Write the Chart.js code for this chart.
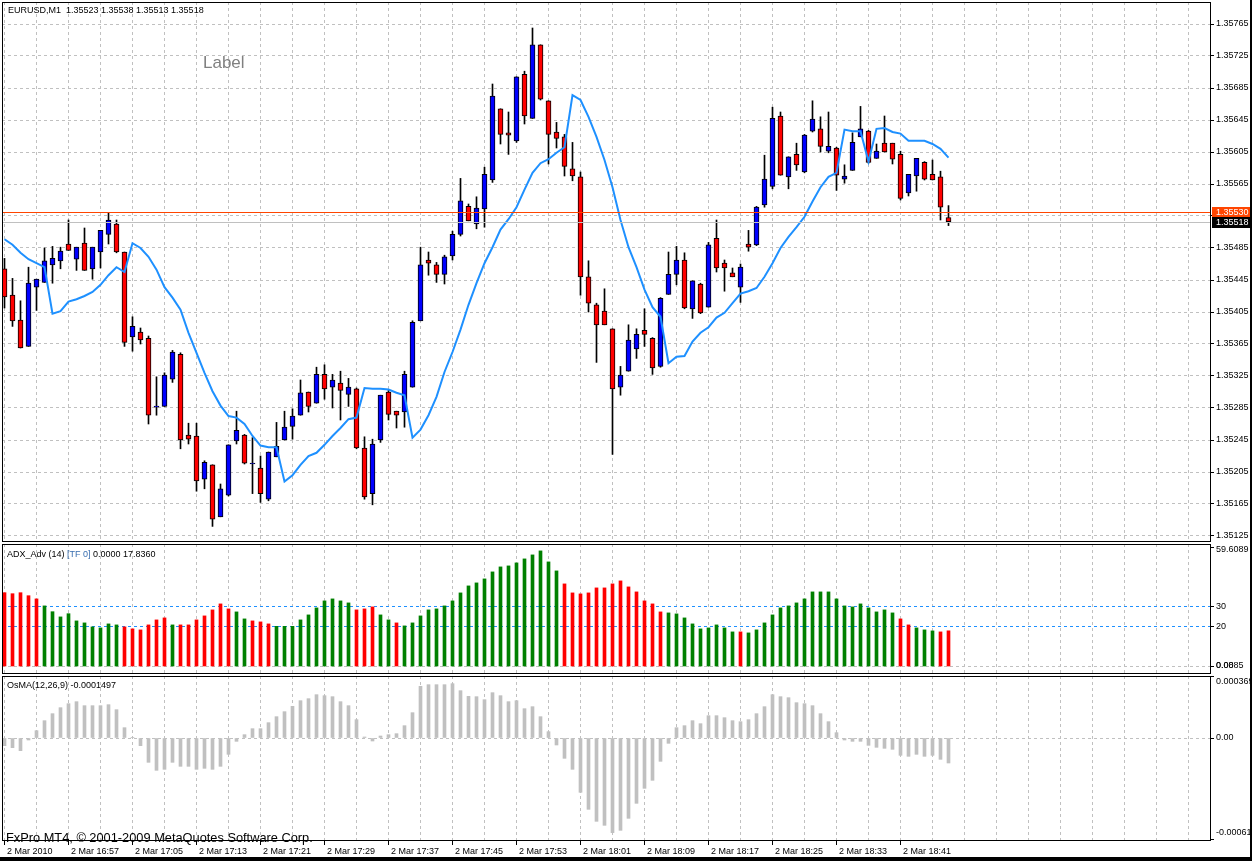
<!DOCTYPE html>
<html>
<head>
<meta charset="utf-8">
<script src="https://cdn.jsdelivr.net/npm/chart.js@4.4.1/dist/chart.umd.min.js"></script>
<style>
    html, body { margin: 0; padding: 0; background: #fff; }
    #wrap { position: relative; width: 1252px; height: 861px; overflow: hidden; background: #fff; }
    canvas { position: absolute; left: 0; }
    .edge { position: absolute; background: #000; }
</style>
</head>
<body>
<div id="wrap">
    <canvas id="priceChart" width="1252" height="543" style="top:0px"></canvas>
    <canvas id="adxChart" width="1252" height="136" style="top:540px"></canvas>
    <canvas id="osmaChart" width="1252" height="189" style="top:672px"></canvas>
    <div class="edge" style="left:1250px;top:0;width:2px;height:861px"></div>
    <div class="edge" style="left:0;top:857px;width:1252px;height:4px"></div>
</div>
<script>
// EURUSD M1, 2 Mar 2010 16:49 .. 18:47, one bar per minute
const tickLabels = ['2 Mar 2010', '2 Mar 16:57', '2 Mar 17:05', '2 Mar 17:13', '2 Mar 17:21', '2 Mar 17:29',
    '2 Mar 17:37', '2 Mar 17:45', '2 Mar 17:53', '2 Mar 18:01', '2 Mar 18:09', '2 Mar 18:17',
    '2 Mar 18:25', '2 Mar 18:33', '2 Mar 18:41'];

const priceTicks = [1.35125, 1.35165, 1.35205, 1.35245, 1.35285, 1.35325, 1.35365, 1.35405, 1.35445,
    1.35485, 1.35525, 1.35565, 1.35605, 1.35645, 1.35685, 1.35725, 1.35765];

const opens = [1.35459, 1.35426, 1.35395, 1.35362, 1.35436, 1.35442, 1.35464, 1.35469, 1.35490, 1.35471,
    1.35491, 1.35459, 1.35480, 1.35502, 1.35515, 1.35480, 1.35374, 1.35380, 1.35372, 1.35286,
    1.35287, 1.35321, 1.35352, 1.35251, 1.35250, 1.35196, 1.35214, 1.35149, 1.35176, 1.35244,
    1.35251, 1.35215, 1.35210, 1.35171, 1.35224, 1.35245, 1.35262, 1.35276, 1.35305, 1.35291,
    1.35327, 1.35311, 1.35316, 1.35302, 1.35309, 1.35235, 1.35178, 1.35245, 1.35305, 1.35281,
    1.35280, 1.35311, 1.35394, 1.35470, 1.35464, 1.35452, 1.35475, 1.35502, 1.35537, 1.35515,
    1.35534, 1.35570, 1.35659, 1.35629, 1.35619, 1.35702, 1.35647, 1.35739, 1.35669, 1.35630,
    1.35624, 1.35584, 1.35574, 1.35449, 1.35414, 1.35406, 1.35384, 1.35311, 1.35331, 1.35359,
    1.35382, 1.35372, 1.35337, 1.35427, 1.35452, 1.35470, 1.35409, 1.35440, 1.35411, 1.35497,
    1.35466, 1.35454, 1.35436, 1.35490, 1.35489, 1.35539, 1.35562, 1.35650, 1.35574, 1.35602,
    1.35580, 1.35631, 1.35634, 1.35606, 1.35610, 1.35571, 1.35582, 1.35624, 1.35631, 1.35597,
    1.35616, 1.35616, 1.35602, 1.35554, 1.35575, 1.35592, 1.35577, 1.35574, 1.35523];

const highs = [1.35472, 1.35447, 1.35419, 1.35461, 1.35446, 1.35485, 1.35487, 1.35486, 1.35520, 1.35486,
    1.35510, 1.35486, 1.35507, 1.35529, 1.35520, 1.35480, 1.35399, 1.35385, 1.35375, 1.35324,
    1.35329, 1.35357, 1.35354, 1.35266, 1.35266, 1.35219, 1.35214, 1.35190, 1.35239, 1.35281,
    1.35252, 1.35248, 1.35225, 1.35230, 1.35267, 1.35281, 1.35284, 1.35320, 1.35305, 1.35336,
    1.35339, 1.35327, 1.35331, 1.35322, 1.35310, 1.35249, 1.35246, 1.35301, 1.35307, 1.35281,
    1.35331, 1.35394, 1.35486, 1.35480, 1.35467, 1.35476, 1.35506, 1.35572, 1.35540, 1.35549,
    1.35586, 1.35690, 1.35659, 1.35655, 1.35699, 1.35706, 1.35760, 1.35739, 1.35669, 1.35642,
    1.35627, 1.35617, 1.35580, 1.35469, 1.35416, 1.35434, 1.35384, 1.35337, 1.35389, 1.35384,
    1.35409, 1.35373, 1.35423, 1.35480, 1.35487, 1.35479, 1.35444, 1.35441, 1.35492, 1.35520,
    1.35470, 1.35460, 1.35465, 1.35507, 1.35537, 1.35601, 1.35661, 1.35655, 1.35599, 1.35616,
    1.35627, 1.35669, 1.35649, 1.35655, 1.35611, 1.35589, 1.35629, 1.35662, 1.35632, 1.35615,
    1.35650, 1.35616, 1.35606, 1.35577, 1.35597, 1.35593, 1.35595, 1.35581, 1.35538];

const lows = [1.35410, 1.35387, 1.35360, 1.35362, 1.35407, 1.35442, 1.35441, 1.35459, 1.35482, 1.35457,
    1.35457, 1.35446, 1.35460, 1.35490, 1.35479, 1.35362, 1.35356, 1.35365, 1.35265, 1.35276,
    1.35287, 1.35317, 1.35234, 1.35240, 1.35181, 1.35184, 1.35137, 1.35149, 1.35175, 1.35240,
    1.35215, 1.35178, 1.35167, 1.35169, 1.35224, 1.35245, 1.35246, 1.35276, 1.35280, 1.35291,
    1.35296, 1.35285, 1.35270, 1.35287, 1.35234, 1.35171, 1.35164, 1.35242, 1.35270, 1.35260,
    1.35261, 1.35311, 1.35394, 1.35451, 1.35442, 1.35440, 1.35470, 1.35500, 1.35519, 1.35509,
    1.35511, 1.35567, 1.35615, 1.35602, 1.35617, 1.35640, 1.35647, 1.35670, 1.35590, 1.35610,
    1.35575, 1.35569, 1.35426, 1.35405, 1.35342, 1.35389, 1.35227, 1.35301, 1.35331, 1.35347,
    1.35362, 1.35327, 1.35336, 1.35427, 1.35439, 1.35409, 1.35397, 1.35403, 1.35411, 1.35455,
    1.35431, 1.35449, 1.35417, 1.35481, 1.35488, 1.35536, 1.35559, 1.35576, 1.35559, 1.35582,
    1.35579, 1.35630, 1.35605, 1.35604, 1.35557, 1.35566, 1.35582, 1.35624, 1.35591, 1.35597,
    1.35605, 1.35590, 1.35545, 1.35550, 1.35556, 1.35570, 1.35570, 1.35520, 1.35513];

const closes = [1.35424, 1.35394, 1.35360, 1.35441, 1.35446, 1.35469, 1.35472, 1.35481, 1.35482, 1.35486,
    1.35457, 1.35486, 1.35507, 1.35520, 1.35480, 1.35367, 1.35387, 1.35370, 1.35276, 1.35286,
    1.35326, 1.35355, 1.35245, 1.35246, 1.35194, 1.35217, 1.35146, 1.35184, 1.35239, 1.35257,
    1.35216, 1.35215, 1.35178, 1.35230, 1.35237, 1.35261, 1.35275, 1.35304, 1.35287, 1.35327,
    1.35309, 1.35320, 1.35307, 1.35311, 1.35235, 1.35174, 1.35240, 1.35301, 1.35277, 1.35276,
    1.35327, 1.35392, 1.35464, 1.35466, 1.35452, 1.35474, 1.35502, 1.35544, 1.35519, 1.35535,
    1.35577, 1.35675, 1.35627, 1.35626, 1.35699, 1.35650, 1.35739, 1.35671, 1.35627, 1.35622,
    1.35587, 1.35575, 1.35449, 1.35416, 1.35389, 1.35389, 1.35309, 1.35326, 1.35370, 1.35377,
    1.35377, 1.35335, 1.35422, 1.35452, 1.35470, 1.35410, 1.35444, 1.35404, 1.35489, 1.35460,
    1.35460, 1.35449, 1.35461, 1.35486, 1.35536, 1.35571, 1.35647, 1.35576, 1.35599, 1.35589,
    1.35626, 1.35646, 1.35612, 1.35612, 1.35576, 1.35575, 1.35617, 1.35634, 1.35592, 1.35606,
    1.35605, 1.35596, 1.35547, 1.35577, 1.35597, 1.35571, 1.35570, 1.35536, 1.35518];

// blue moving-average style line over the candles
const maLine = [1.35496, 1.35489, 1.35479, 1.35471, 1.35466, 1.35461, 1.35403, 1.35406, 1.35418, 1.35421,
    1.35425, 1.35430, 1.35439, 1.35451, 1.35461, 1.35455, 1.35491, 1.35485, 1.35474, 1.35458,
    1.35436, 1.35423, 1.35408, 1.35379, 1.35354, 1.35329, 1.35306, 1.35288, 1.35275, 1.35273,
    1.35265, 1.35250, 1.35238, 1.35236, 1.35236, 1.35193, 1.35201, 1.35214, 1.35225, 1.35229,
    1.35239, 1.35250, 1.35260, 1.35271, 1.35273, 1.35310, 1.35309, 1.35309, 1.35308, 1.35304,
    1.35301, 1.35248, 1.35258, 1.35276, 1.35299, 1.35330, 1.35355, 1.35383, 1.35414, 1.35441,
    1.35466, 1.35486, 1.35508, 1.35521, 1.35536, 1.35558, 1.35579, 1.35591, 1.35596, 1.35604,
    1.35611, 1.35676, 1.35670, 1.35649, 1.35624, 1.35595, 1.35561, 1.35520, 1.35486, 1.35461,
    1.35433, 1.35411, 1.35399, 1.35341, 1.35349, 1.35350, 1.35368, 1.35379, 1.35386, 1.35398,
    1.35404, 1.35416, 1.35428, 1.35431, 1.35435, 1.35449, 1.35466, 1.35485, 1.35499, 1.35511,
    1.35524, 1.35543, 1.35561, 1.35574, 1.35579, 1.35633, 1.35631, 1.35631, 1.35593, 1.35634,
    1.35635, 1.35630, 1.35628, 1.35619, 1.35619, 1.35619, 1.35615, 1.35609, 1.35598];

const askPrice = 1.35530;
const bidPrice = 1.35518;

// ADX_Adv(14): value and which DI dominates (r = minus, g = plus)
const adxValues = [36.9, 36.4, 36.9, 35.4, 33.8, 30.3, 27.4, 24.8, 26.4, 22.8,
    21.8, 19.8, 19.3, 21.3, 20.8, 19.8, 18.8, 18.3, 20.8, 23.3,
    24.3, 20.8, 20.8, 20.8, 23.3, 25.3, 28.3, 31.3, 28.8, 27.3,
    23.8, 22.8, 22.3, 21.3, 20.1, 20.1, 20.1, 23.3, 25.8, 29.3,
    32.8, 33.8, 32.8, 31.8, 28.3, 28.8, 29.8, 25.8, 23.3, 21.8,
    20.3, 21.8, 25.3, 28.3, 28.8, 30.3, 32.8, 36.8, 40.3, 41.8,
    43.8, 47.3, 49.8, 50.3, 51.8, 53.8, 55.8, 57.8, 52.3, 47.8,
    41.3, 36.8, 36.3, 36.8, 39.3, 39.3, 41.3, 42.8, 39.8, 37.3,
    32.8, 31.3, 27.3, 26.8, 26.3, 24.3, 21.3, 18.8, 19.3, 20.8,
    19.3, 17.3, 17.3, 16.8, 18.3, 21.8, 25.8, 29.3, 30.3, 31.8,
    33.8, 37.3, 37.3, 37.3, 33.8, 30.3, 29.8, 31.3, 29.3, 27.3,
    28.3, 26.8, 23.8, 20.8, 19.3, 18.3, 17.8, 17.3, 17.84];
const adxSide = ('rrrrr' + 'gggggggggg' + 'rrrrrr' + 'g' + 'rrrrrrr' + 'gg' + 'rrr' + 'gggggggggg' +
    'rrr' + 'gg' + 'r' + 'gggggggggggggggggggg' + 'rrrrrrrrrrrrr' + 'ggggggggg' + 'r' +
    'ggggggggggggggggggg' + 'rr' + 'ggg' + 'rr').split('');
const adxTicks = [59.6089, 30, 20, 0.0885, 0];
const adxTickText = ['59.6089', '30', '20', '0.0885', '0.00'];

// OsMA(12,26,9)
const osmaValues = [-46e-6, -58e-6, -76e-6, -12e-6, 44e-6, 104e-6, 146e-6, 182e-6, 206e-6, 218e-6,
    194e-6, 194e-6, 194e-6, 200e-6, 170e-6, 62e-6, 2e-6, -46e-6, -146e-6, -194e-6,
    -188e-6, -146e-6, -170e-6, -170e-6, -188e-6, -182e-6, -188e-6, -170e-6, -98e-6, -20e-6,
    20e-6, 56e-6, 56e-6, 92e-6, 128e-6, 158e-6, 190e-6, 224e-6, 236e-6, 260e-6,
    254e-6, 248e-6, 218e-6, 194e-6, 110e-6, 6e-6, -18e-6, 12e-6, 20e-6, 26e-6,
    74e-6, 152e-6, 310e-6, 320e-6, 320e-6, 320e-6, 326e-6, 284e-6, 250e-6, 248e-6,
    230e-6, 272e-6, 254e-6, 218e-6, 224e-6, 176e-6, 188e-6, 128e-6, 38e-6, -42e-6,
    -122e-6, -188e-6, -326e-6, -428e-6, -500e-6, -524e-6, -568e-6, -554e-6, -482e-6, -392e-6,
    -302e-6, -254e-6, -140e-6, -32e-6, 62e-6, 74e-6, 104e-6, 86e-6, 134e-6, 134e-6,
    122e-6, 104e-6, 98e-6, 110e-6, 146e-6, 188e-6, 260e-6, 248e-6, 242e-6, 212e-6,
    206e-6, 194e-6, 146e-6, 98e-6, 32e-6, -12e-6, -20e-6, -20e-6, -44e-6, -56e-6,
    -62e-6, -68e-6, -104e-6, -110e-6, -98e-6, -110e-6, -104e-6, -128e-6, -150e-6];
const osmaTicks = [0.000369, 0, -0.00061];
const osmaTickText = ['0.000369', '0.00', '-0.00061'];

Chart.defaults.font.family = '"Liberation Sans", Arial, sans-serif';
Chart.defaults.font.size = 9;
Chart.defaults.color = '#000';

const GRID = '#c0c0c0';
const FONT = '9px "Liberation Sans", Arial, sans-serif';

// 151 bar slots fit the window, grid every 4 bars, time labels every 8
const gridIdx = [];
for (let v = 0; v < 151; v += 4) gridIdx.push(v);

function hasTimeLabel(v) {
    return v % 8 === 0 && v / 8 < tickLabels.length;
}

function timeAxis(withLabels) {
    return {
        type: 'linear',
        min: -0.3125,
        max: 150.6875,
        offset: false,
        afterBuildTicks: s => { s.ticks = gridIdx.map(v => ({ value: v })); },
        afterFit: s => { s.height = withLabels ? 21 : 0; s.paddingLeft = 0; s.paddingRight = 0; },
        grid: {
            color: GRID,
            offset: false,
            drawTicks: withLabels,
            tickLength: 5,
            tickBorderDash: [],
            tickColor: c => (c.tick && hasTimeLabel(c.tick.value)) ? '#000' : 'rgba(0,0,0,0)'
        },
        border: { display: false, dash: [3, 3] },
        ticks: {
            display: withLabels,
            autoSkip: false,
            maxRotation: 0,
            align: 'start',
            padding: 1,
            callback: v => (hasTimeLabel(v) ? ' ' + tickLabels[v / 8] : '')
        }
    };
}

function valueAxis(min, max, ticks, gridColor, showLabels) {
    return {
        position: 'right',
        min: min,
        max: max,
        afterBuildTicks: s => { s.ticks = ticks.map(v => ({ value: v })); },
        afterFit: s => { s.width = 42; s.paddingTop = 0; s.paddingBottom = 0; },
        grid: { color: gridColor, tickColor: '#000', tickLength: 4, tickBorderDash: [] },
        border: { display: false, dash: [3, 3] },
        ticks: { display: showLabels, autoSkip: false, padding: 2, callback: v => v.toFixed(5) }
    };
}

function frame(ctx, a) {
    ctx.save();
    ctx.strokeStyle = '#000';
    ctx.lineWidth = 1;
    ctx.strokeRect(a.left + 0.5, a.top + 0.5, a.right - a.left, a.bottom - a.top);
    ctx.restore();
}

function sideLabels(chart, values, texts) {
    const { ctx, chartArea, scales } = chart;
    ctx.save();
    ctx.font = FONT;
    ctx.fillStyle = '#000';
    ctx.textAlign = 'left';
    ctx.textBaseline = 'middle';
    values.forEach((v, k) => {
        let py = scales.y.getPixelForValue(v);
        py = Math.min(Math.max(py, chartArea.top + 6), chartArea.bottom - 7);
        ctx.fillText(texts[k], chartArea.right + 6, py);
    });
    ctx.restore();
}

const baseOptions = {
    responsive: false,
    animation: false,
    devicePixelRatio: 1,
    events: [],
    plugins: { legend: { display: false }, tooltip: { enabled: false } }
};

// Price panel
const idx = opens.map((_, i) => i);
const bodyColors = idx.map(i => closes[i] >= opens[i] ? '#0000ff' : '#ff0000');

new Chart(document.getElementById('priceChart'), {
    type: 'bar',
    data: {
        datasets: [{
            type: 'line',
            data: idx.map(i => ({ x: i, y: maLine[i] })),
            borderColor: '#1e90ff',
            borderWidth: 2,
            pointRadius: 0,
            tension: 0,
            fill: false,
            order: 0
        }, {
            data: idx.map(i => ({ x: i, y: [Math.min(opens[i], closes[i]), Math.max(opens[i], closes[i])] })),
            backgroundColor: bodyColors,
            borderColor: '#000',
            borderWidth: 1,
            borderSkipped: false,
            barThickness: 5,
            minBarLength: 1,
            grouped: false,
            order: 1
        }, {
            data: idx.map(i => ({ x: i, y: [lows[i], highs[i]] })),
            backgroundColor: '#000',
            borderWidth: 0,
            barThickness: 1,
            minBarLength: 1,
            grouped: false,
            order: 2
        }]
    },
    options: Object.assign({}, baseOptions, {
        layout: { padding: { left: 2, top: 2, right: 0, bottom: 2 } },
        scales: {
            x: timeAxis(false),
            y: valueAxis(1.3511875, 1.357925, priceTicks, GRID, true)
        }
    }),
    plugins: [{
        id: 'priceDecor',
        afterDatasetsDraw(chart) {
            const { ctx, chartArea, scales } = chart;
            ctx.save();
            ctx.lineWidth = 1;
            [[bidPrice, '#c0c0c0'], [askPrice, '#ff4500']].forEach(([p, c]) => {
                const py = Math.round(scales.y.getPixelForValue(p)) + 0.5;
                ctx.strokeStyle = c;
                ctx.beginPath();
                ctx.moveTo(chartArea.left, py);
                ctx.lineTo(chartArea.right, py);
                ctx.stroke();
            });
            ctx.restore();
        },
        afterDraw(chart) {
            const { ctx, chartArea, scales } = chart;
            frame(ctx, chartArea);
            ctx.save();
            ctx.font = FONT;
            ctx.textBaseline = 'middle';
            ctx.textAlign = 'left';
            [[askPrice, '#ff4500'], [bidPrice, '#000']].forEach(([p, c]) => {
                const py = Math.round(scales.y.getPixelForValue(p));
                ctx.fillStyle = c;
                ctx.fillRect(chartArea.right + 2, py - 5, 40, 11);
                ctx.fillStyle = '#fff';
                ctx.fillText(p.toFixed(5), chartArea.right + 6, py + 0.5);
            });
            ctx.fillStyle = '#000';
            ctx.fillText('EURUSD,M1  1.35523 1.35538 1.35513 1.35518', 8, 11);
            ctx.font = '17px "Liberation Sans", Arial, sans-serif';
            ctx.fillStyle = '#808080';
            ctx.textBaseline = 'alphabetic';
            ctx.fillText('Label', 203, 68);
            ctx.restore();
        }
    }]
});

// ADX panel
new Chart(document.getElementById('adxChart'), {
    type: 'bar',
    data: {
        datasets: [{
            data: idx.map(i => ({ x: i, y: adxValues[i] })),
            backgroundColor: adxSide.map(s => s === 'r' ? '#ff0000' : '#008000'),
            borderWidth: 0,
            barThickness: 3,
            grouped: false
        }]
    },
    options: Object.assign({}, baseOptions, {
        layout: { padding: { left: 2, top: 4, right: 0, bottom: 3 } },
        scales: {
            x: timeAxis(false),
            y: valueAxis(-3.25, 61.25, adxTicks,
                c => (c.tick && (c.tick.value === 30 || c.tick.value === 20)) ? '#1e90ff'
                    : (c.tick && c.tick.value === 0 ? GRID : 'rgba(0,0,0,0)'), false)
        }
    }),
    plugins: [{
        id: 'adxDecor',
        afterDraw(chart) {
            const { ctx } = chart;
            frame(ctx, chart.chartArea);
            sideLabels(chart, adxTicks, adxTickText);
            ctx.save();
            ctx.font = FONT;
            ctx.textBaseline = 'middle';
            let x = 7;
            [['ADX_Adv (14) ', '#000'], ['[TF 0]', '#3a6fb0'], [' 0.0000 17.8360', '#000']].forEach(([t, c]) => {
                ctx.fillStyle = c;
                ctx.fillText(t, x, 14.5);
                x += ctx.measureText(t).width;
            });
            ctx.restore();
        }
    }]
});

// OsMA panel
new Chart(document.getElementById('osmaChart'), {
    type: 'bar',
    data: {
        datasets: [{
            data: idx.map(i => ({ x: i, y: osmaValues[i] })),
            backgroundColor: '#c0c0c0',
            borderWidth: 0,
            barThickness: 3,
            grouped: false
        }]
    },
    options: Object.assign({}, baseOptions, {
        layout: { padding: { left: 2, top: 4, right: 0, bottom: 0 } },
        scales: {
            x: timeAxis(true),
            y: valueAxis(-0.000612, 0.000372, osmaTicks,
                c => (c.tick && c.tick.value === 0) ? GRID : 'rgba(0,0,0,0)', false)
        }
    }),
    plugins: [{
        id: 'osmaDecor',
        afterDraw(chart) {
            const { ctx } = chart;
            frame(ctx, chart.chartArea);
            sideLabels(chart, osmaTicks, osmaTickText);
            ctx.save();
            ctx.font = FONT;
            ctx.fillStyle = '#000';
            ctx.textBaseline = 'middle';
            ctx.fillText('OsMA(12,26,9) -0.0001497', 7, 14);
            ctx.font = '12.8px "Liberation Sans", Arial, sans-serif';
            ctx.textBaseline = 'alphabetic';
            ctx.fillText('FxPro MT4, \u00a9 2001-2009 MetaQuotes Software Corp.', 6, 170);
            ctx.restore();
        }
    }]
});
</script>
</body>
</html>
